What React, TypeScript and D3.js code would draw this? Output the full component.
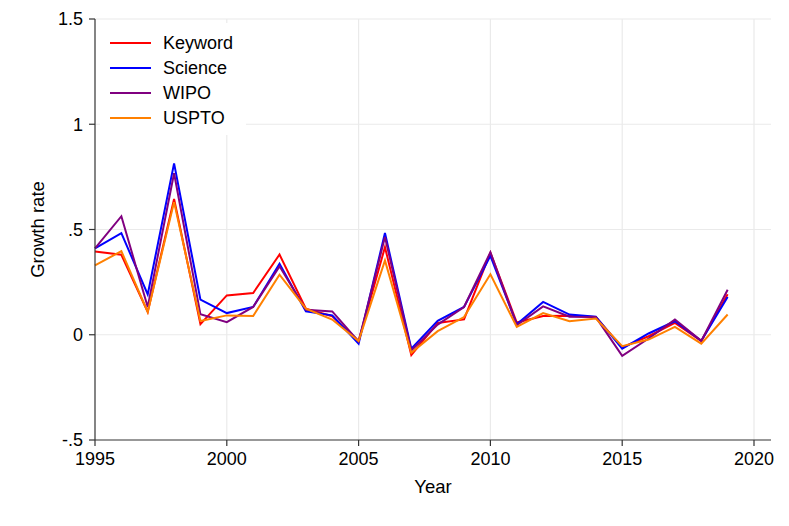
import React, { useEffect } from "react";
import * as d3 from "d3";

const years = d3.range(1995, 2020);

const keyword = [0.395, 0.38, 0.108, 0.645, 0.05, 0.187, 0.198, 0.381, 0.124, 0.088, -0.03, 0.416, -0.097, 0.056, 0.073, 0.39, 0.058, 0.089, 0.09, 0.084, -0.06, -0.007, 0.056, -0.03, 0.192];
const science = [0.41, 0.483, 0.192, 0.814, 0.167, 0.103, 0.132, 0.337, 0.111, 0.092, -0.042, 0.483, -0.066, 0.066, 0.132, 0.375, 0.05, 0.156, 0.096, 0.086, -0.066, 0.006, 0.064, -0.029, 0.179];
const wipo = [0.41, 0.563, 0.132, 0.767, 0.097, 0.06, 0.132, 0.325, 0.119, 0.111, -0.032, 0.464, -0.075, 0.048, 0.132, 0.392, 0.045, 0.135, 0.086, 0.084, -0.1, -0.018, 0.072, -0.029, 0.214];
const uspto = [0.33, 0.397, 0.108, 0.63, 0.065, 0.092, 0.089, 0.285, 0.124, 0.072, -0.03, 0.353, -0.086, 0.017, 0.084, 0.287, 0.037, 0.103, 0.064, 0.077, -0.054, -0.023, 0.037, -0.042, 0.096];

const seriesNames = ["Keyword", "Science", "WIPO", "USPTO"];
const seriesColors = ["#ff0000", "#0000ff", "#800080", "#ff8000"];
const seriesValues = [keyword, science, wipo, uspto];

const xTicks = [1995, 2000, 2005, 2010, 2015, 2020];
const yTicks = [-0.5, 0, 0.5, 1, 1.5];
const yTickLabels = ["-.5", "0", ".5", "1", "1.5"];

const W = 789;
const H = 526;
const font = "'Liberation Sans', Arial, sans-serif";

export default function App() {
  useEffect(() => {
    document.body.style.margin = "0";
  }, []);

  const x = d3.scaleLinear().domain([1995, 2020]).range([95, 754]);
  const y = d3.scaleLinear().domain([-0.5, 1.5]).range([440, 19]);
  const xEnd = 771;

  const line = d3
    .line<number>()
    .x((_, i) => x(years[i]))
    .y((d) => y(d));

  return (
    <svg width={W} height={H} style={{ display: "block", fontFamily: font }}>
      <rect width={W} height={H} fill="#fff" />
      {/* grid */}
      {yTicks.slice(1).map((t) => (
        <line key={"gy" + t} x1={x(1995)} x2={xEnd} y1={y(t)} y2={y(t)} stroke="#eaeaea" strokeWidth={1.2} />
      ))}
      {xTicks.slice(1).map((t) => (
        <line key={"gx" + t} x1={x(t)} x2={x(t)} y1={y(-0.5)} y2={y(1.5)} stroke="#eaeaea" strokeWidth={1.2} />
      ))}
      {/* legend background */}
      <rect x={100} y={23} width={146} height={112} fill="#fff" />
      {/* series */}
      {seriesValues.map((vals, i) => (
        <path key={seriesNames[i]} d={line(vals) ?? ""} fill="none" stroke={seriesColors[i]} strokeWidth={2} strokeLinejoin="miter" />
      ))}
      {/* axes */}
      <line x1={x(1995)} x2={x(1995)} y1={y(-0.5)} y2={y(1.5)} stroke="#333" strokeWidth={1.2} />
      <line x1={x(1995)} x2={xEnd} y1={y(-0.5)} y2={y(-0.5)} stroke="#333" strokeWidth={1.2} />
      {yTicks.map((t, i) => (
        <g key={"ty" + t}>
          <line x1={x(1995) - 6} x2={x(1995)} y1={y(t)} y2={y(t)} stroke="#333" strokeWidth={1.2} />
          <text x={x(1995) - 12} y={y(t)} dy="0.35em" textAnchor="end" fontSize={18} fill="#000">
            {yTickLabels[i]}
          </text>
        </g>
      ))}
      {xTicks.map((t) => (
        <g key={"tx" + t}>
          <line x1={x(t)} x2={x(t)} y1={y(-0.5)} y2={y(-0.5) + 6} stroke="#333" strokeWidth={1.2} />
          <text x={x(t)} y={y(-0.5) + 25} textAnchor="middle" fontSize={18} fill="#000">
            {t}
          </text>
        </g>
      ))}
      <text x={(x(1995) + xEnd) / 2} y={493} textAnchor="middle" fontSize={18.5} fill="#000">
        Year
      </text>
      <text transform={`translate(44,${(y(-0.5) + y(1.5)) / 2}) rotate(-90)`} textAnchor="middle" fontSize={18.5} fill="#000">
        Growth rate
      </text>
      {/* legend */}
      {seriesNames.map((n, i) => (
        <g key={"lg" + n} transform={`translate(0,${43 + i * 25})`}>
          <line x1={110} x2={151} y1={0} y2={0} stroke={seriesColors[i]} strokeWidth={2} />
          <text x={163} y={0} dy="0.35em" fontSize={18} fill="#000">
            {n}
          </text>
        </g>
      ))}
    </svg>
  );
}
